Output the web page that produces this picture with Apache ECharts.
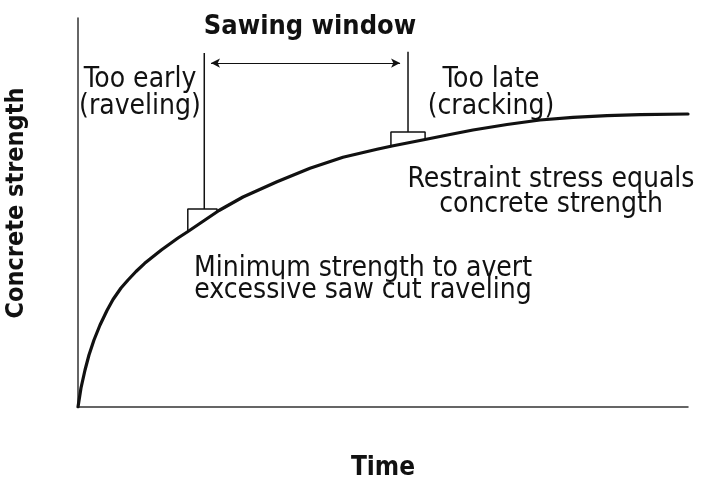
<!DOCTYPE html>
<html>
<head>
<meta charset="utf-8">
<script src="https://cdn.jsdelivr.net/npm/echarts@6/dist/echarts.min.js"></script>
<style>
  html, body { margin: 0; padding: 0; background: #fff; }
  #chart { width: 701px; height: 483px; }
</style>
</head>
<body>
<div id="chart"></div>
<script>
// strength gain curve (time %, strength %)
const curveTime = [0, 0.49, 1.15, 1.8, 2.62, 3.61, 4.75, 5.74, 7.05, 8.2, 9.51, 10.93, 13.66, 16.39, 18.03, 23.11, 27.05, 32.62, 38.03, 43.44, 49.02, 51.48, 56.89, 60.98, 64.75, 70.33, 75.74, 81.15, 86.72, 92.13, 100]
const curveStrength = [0, 4.88, 9.51, 13.37, 17.22, 21.08, 24.81, 27.63, 30.59, 32.65, 34.83, 36.94, 40.36, 43.44, 45.12, 50.51, 53.98, 57.92, 61.36, 64.19, 66.25, 67.1, 68.77, 70.05, 71.21, 72.62, 73.78, 74.47, 74.91, 75.17, 75.32]

// early limit: vertical marker + small bracket sitting on the curve
const earlyTime = [20.7, 20.7]
const earlyStrength = [91.0, 50.9]
const earlyBoxTime = [18.0, 18.0, 22.8, 22.8]
const earlyBoxStrength = [45.1, 50.9, 50.9, 50.2]

// late limit
const lateTime = [54.1, 54.1]
const lateStrength = [91.3, 70.7]
const lateBoxTime = [51.3, 51.3, 56.9, 56.9]
const lateBoxStrength = [67.1, 70.7, 70.7, 68.7]

// sawing window arrow
const windowTime = [21.8, 52.8]
const windowStrength = 88.4

const pairs = (xs, ys) => xs.map((x, i) => [x, ys[i]])
const narrow = '"Liberation Sans Narrow", "DejaVu Sans Condensed", sans-serif'
const ink = '#111'

const thin = (name, data) => ({
  name,
  type: 'line',
  data,
  showSymbol: false,
  silent: true,
  lineStyle: { color: ink, width: 1.5 }
})

const chart = echarts.init(document.getElementById('chart'))
chart.setOption({
  animation: false,
  grid: { left: 78, right: 13, top: 18, bottom: 76, outerBoundsMode: 'none', containLabel: false },
  xAxis: {
    type: 'value',
    min: 0,
    max: 100,
    name: 'Time',
    nameLocation: 'middle',
    nameGap: 48,
    nameTextStyle: { fontFamily: narrow, fontWeight: 'bold', fontSize: 26, color: ink },
    axisLine: { lineStyle: { color: '#333', width: 1.5 } },
    axisTick: { show: false },
    axisLabel: { show: false },
    splitLine: { show: false }
  },
  yAxis: {
    type: 'value',
    min: 0,
    max: 100,
    axisLine: { show: true, lineStyle: { color: '#333', width: 1.5 } },
    axisTick: { show: false },
    axisLabel: { show: false },
    splitLine: { show: false }
  },
  series: [
    {
      name: 'Strength',
      type: 'line',
      data: pairs(curveTime, curveStrength),
      showSymbol: false,
      lineStyle: { color: ink, width: 3.2, join: 'round', cap: 'round' },
      markLine: {
        silent: true,
        symbol: ['arrow', 'arrow'],
        symbolSize: [7, 9],
        label: { show: false },
        lineStyle: { color: ink, width: 1.2, type: 'solid' },
        data: [[
          { coord: [windowTime[0], windowStrength] },
          { coord: [windowTime[1], windowStrength] }
        ]]
      }
    },
    thin('Early', pairs(earlyTime, earlyStrength)),
    thin('EarlyBox', pairs(earlyBoxTime, earlyBoxStrength)),
    thin('Late', pairs(lateTime, lateStrength)),
    thin('LateBox', pairs(lateBoxTime, lateBoxStrength))
  ],
  graphic: [
    {
      type: 'text', x: 16, y: 203, rotation: Math.PI / 2,
      style: { text: 'Concrete strength', font: 'bold 25px ' + narrow, fill: ink, textAlign: 'center', textVerticalAlign: 'middle' }
    },
    {
      type: 'text', x: 310, y: 13,
      style: { text: 'Sawing window', font: 'bold 27px ' + narrow, fill: ink, textAlign: 'center' }
    },
    {
      type: 'text', x: 140, y: 66,
      style: { text: 'Too early\n(raveling)', font: '28px ' + narrow, lineHeight: 27, fill: ink, textAlign: 'center' }
    },
    {
      type: 'text', x: 491, y: 66,
      style: { text: 'Too late\n(cracking)', font: '28px ' + narrow, lineHeight: 27, fill: ink, textAlign: 'center' }
    },
    {
      type: 'text', x: 551, y: 167,
      style: { text: 'Restraint stress equals\nconcrete strength', font: '28px ' + narrow, lineHeight: 25, fill: ink, textAlign: 'center' }
    },
    {
      type: 'text', x: 363, y: 258,
      style: { text: 'Minimum strength to avert\nexcessive saw cut raveling', font: '28px ' + narrow, lineHeight: 22, fill: ink, textAlign: 'center' }
    }
  ]
})
</script>
</body>
</html>
